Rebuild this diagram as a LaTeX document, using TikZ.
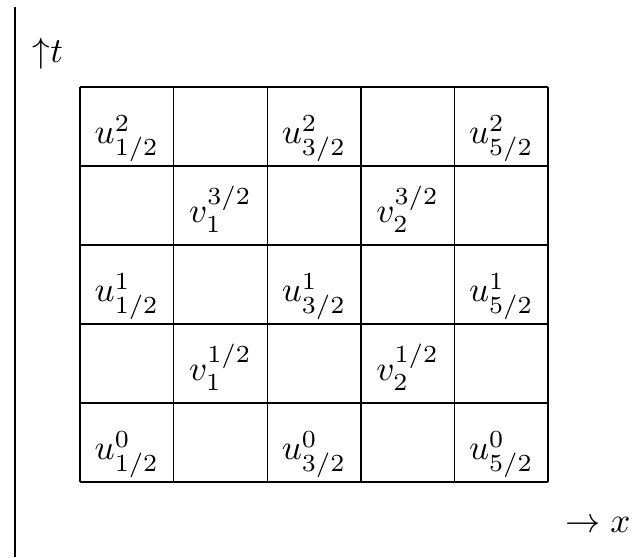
\documentclass[tikz,border=0pt]{standalone}
\begin{document}
\begin{tikzpicture}[
  x=0.936cm, y=0.79cm,
  cell/.style={anchor=base,inner sep=0pt},
  axis/.style={draw,line width=0.4pt}
]
\useasboundingbox (-0.80cm,-0.75cm) rectangle (5.59cm,4.82cm);

% axe vertical et légendes
\coordinate (axbot) at (-0.65cm,-0.75cm);
\coordinate (axtop) at (-0.65cm,4.75cm);
\draw[axis] (axbot) -- (axtop);
\node (tlab) at (-0.32cm,4.28cm) {${\uparrow}t$};
\node (xlab) at (5.18cm,-0.43cm) {$\rightarrow x$};

% la grille
\foreach \k in {0,...,5} {
  \draw (\k,0) -- (\k,5);
  \draw (0,\k) -- (5,\k);
}

% les valeurs u
\foreach \n/\lev in {0/0,2/1,4/2}
  \foreach \c/\sub in {0/{1/2},2/{3/2},4/{5/2}}
    \node[cell] (u-\n-\c) at (\c+0.5,\n+0.28) {$u^{\lev}_{\sub}$};

% les valeurs v
\foreach \n/\lev in {1/{1/2},3/{3/2}}
  \foreach \c/\sub in {1/1,3/2}
    \node[cell] (v-\n-\c) at (\c+0.5,\n+0.28) {$v^{\lev}_{\sub}$};

\end{tikzpicture}
\end{document}
